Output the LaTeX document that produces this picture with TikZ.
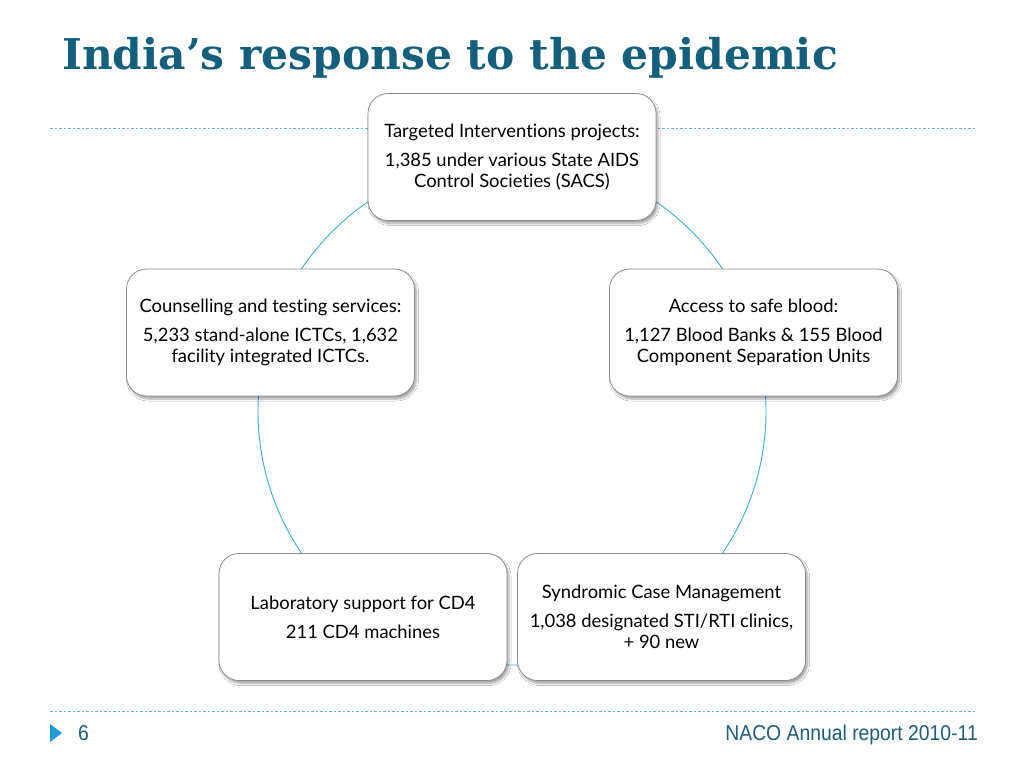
\documentclass[tikz,border=0pt]{standalone}
\usepackage{fontspec}
\setmainfont[Ligatures={NoCommon}]{Lato}
\newfontfamily\titlefont{DejaVu Serif}
\newfontfamily\footfont[FakeStretch=0.9]{Liberation Sans}
\usetikzlibrary{shadows.blur}
\definecolor{titleblue}{HTML}{135F7C}
\definecolor{ringblue}{HTML}{3AACDA}
\definecolor{dashteal}{HTML}{62B7C8}
\definecolor{footgray}{HTML}{1E5E78}
\definecolor{arrowblue}{HTML}{1E9CD8}
\tikzset{
  box/.style={draw=black!45, line width=0.8pt, fill=white, rounded corners=20pt,
    minimum width=288pt, minimum height=127pt, align=center, inner sep=0pt,
    blur shadow={shadow xshift=2pt, shadow yshift=-3pt, shadow blur steps=6, shadow opacity=35},
    font=\fontsize{18.4}{21}\selectfont},
  ring/.style={draw=ringblue, line width=0.9pt},
  dashline/.style={draw=dashteal, line width=1pt, dash pattern=on 2.5pt off 2pt},
}
\begin{document}
\begin{tikzpicture}[x=1pt,y=-1pt]
\useasboundingbox (0,0) rectangle (1024,768);
\fill[white] (0,0) rectangle (1024,768);
\node[anchor=base west, text=titleblue, font=\titlefont\bfseries\fontsize{42.4}{50}\selectfont, inner sep=0pt] (title) at (62,70) {India’s response to the epidemic};
\draw[dashline] (50,128) -- (975,128);
\draw[dashline] (50,711) -- (975,711);
\draw[ring] (512,411) circle[radius=254pt];
\node[box] (top) at (512,157) {Targeted Interventions projects:\\[8pt] 1,385 under various State AIDS\\Control Societies (SACS)};
\node[box] (left) at (270.5,332.5) {Counselling and testing services:\\[8pt]5,233 stand-alone ICTCs, 1,632\\facility integrated ICTCs.};
\node[box] (right) at (753.5,332.5) {Access to safe blood:\\[8pt]1,127 Blood Banks \& 155 Blood\\Component Separation Units};
\node[box] (bl) at (363,617) {Laboratory support for CD4\\[8pt]211 CD4 machines};
\node[box] (br) at (661.5,617) {Syndromic Case Management\\[8pt]1,038 designated STI/RTI clinics,\\+ 90 new};
\fill[arrowblue] (50,724) -- (62,733) -- (50,742) -- cycle;
\node[anchor=base west, inner sep=0pt, text=footgray, font=\footfont\fontsize{21.5}{24}\selectfont] (num) at (78,740) {6};
\node[anchor=base east, inner sep=0pt, text=footgray, font=\footfont\fontsize{21.5}{24}\selectfont] (foot) at (978,740) {NACO Annual report 2010-11};
\end{tikzpicture}
\end{document}
